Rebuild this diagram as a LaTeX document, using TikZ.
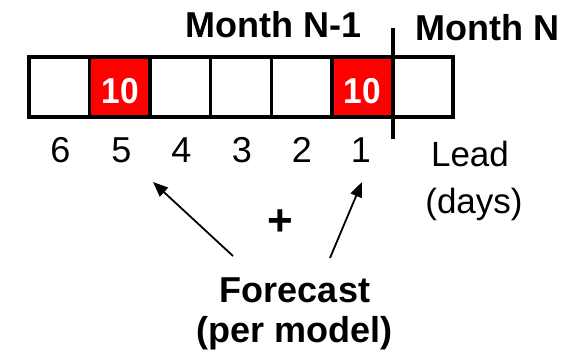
\documentclass[tikz,border=0pt]{standalone}
\usepackage{fontspec}
\setmainfont{Liberation Sans}
\usetikzlibrary{arrows.meta}
\definecolor{boxred}{RGB}{255,0,0}
\tikzset{
  cell/.style={draw=black, line width=3.4pt, minimum width=60.57pt, minimum height=60pt, inner sep=0pt, fill=white},
  redcell/.style={cell, fill=boxred},
  tenlbl/.style={inner sep=0pt, anchor=base, text=white, xscale=0.93, font=\bfseries\fontsize{36}{40}\selectfont},
  lbl/.style={inner sep=0pt, anchor=base, font=\fontsize{36}{40}\selectfont},
  blbl/.style={inner sep=0pt, anchor=base, font=\bfseries\fontsize{36}{40}\selectfont},
  arr/.style={line width=1.8pt, -{Triangle[length=15pt,width=12pt]}},
}
\begin{document}
\begin{tikzpicture}[x=1pt,y=-1pt]
\useasboundingbox (0,0) rectangle (587,355);
% cells
\node[cell]    (c6) at (59.3,87) {};
\node[redcell] (c5) at (119.9,87) {};
\node[cell]    (c4) at (180.4,87) {};
\node[cell]    (c3) at (241.0,87) {};
\node[cell]    (c2) at (301.6,87) {};
\node[redcell] (c1) at (362.1,87) {};
\node[cell]    (c0) at (422.7,87) {};
% numbers in red cells
\node[tenlbl] (t5) at (120.5,104) {10};
\node[tenlbl] (t1) at (362.6,104) {10};
% month separator
\coordinate (septop) at (393,28);
\coordinate (sepbot) at (393,139);
\draw[line width=4pt] (septop) -- (sepbot);
% month labels
\node[blbl] (mprev) at (273.5,38) {Month N-1};
\node[blbl] (mcur)  at (487.5,41) {Month N};
% lead numbers
\node[lbl] (n6) at (60.5,163) {6};
\node[lbl] (n5) at (121.5,163) {5};
\node[lbl] (n4) at (181.5,163) {4};
\node[lbl] (n3) at (242,163) {3};
\node[lbl] (n2) at (302,163) {2};
\node[lbl] (n1) at (361,163) {1};
\node[lbl, font=\fontsize{35}{40}\selectfont] (lead) at (470,167) {Lead};
\node[lbl, font=\fontsize{35}{40}\selectfont] (days) at (474,214) {(days)};
% plus
\node[inner sep=0pt, font=\bfseries\fontsize{44}{48}\selectfont] (plus) at (280,222.5) {+};
% forecast
\node[blbl] (fc)  at (295,303) {Forecast};
\node[blbl] (fcm) at (294.5,343) {(per model)};
% arrows
\coordinate (a5s) at (233,256);
\coordinate (a5e) at (153,182);
\coordinate (a1s) at (330,258);
\coordinate (a1e) at (362,182);
\draw[arr] (a5s) -- (a5e);
\draw[arr] (a1s) -- (a1e);
\end{tikzpicture}
\end{document}
